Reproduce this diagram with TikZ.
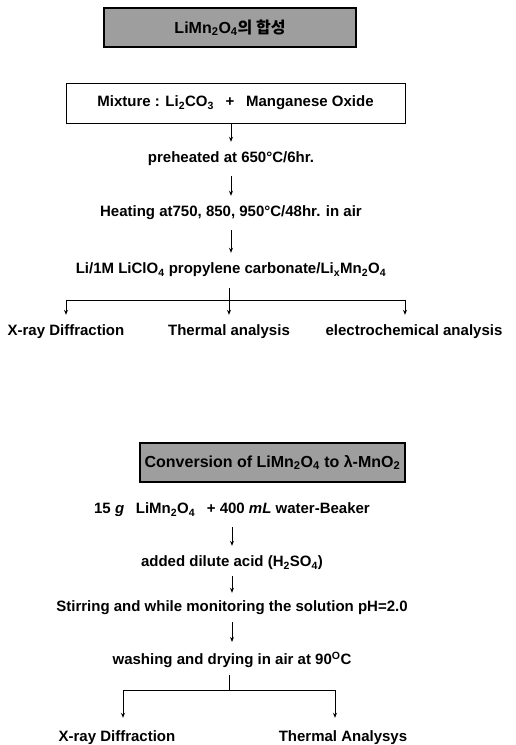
\documentclass[tikz,border=0pt]{standalone}
\usepackage{fontspec}
\setmainfont{Liberation Sans}
\newfontfamily\krfont{Noto Sans CJK KR}
\usepackage{tikz}
\usetikzlibrary{positioning,arrows.meta}

\begin{document}
\begin{tikzpicture}[
		x=1pt, y=-1pt,
		stage/.style={font=\bfseries\fontsize{15}{17}\selectfont, inner sep=3pt},
		title/.style={
			draw,
			fill=black!38,
			line width=1.2pt,
			font=\bfseries\fontsize{16}{18}\selectfont,
			minimum height=39pt,
			inner sep=3pt
		},
		mixbox/.style={
			draw,
			line width=0.7pt,
			minimum width=339pt,
			minimum height=40pt,
			font=\bfseries\fontsize{15}{17}\selectfont
		},
		arrow/.style={-{Stealth[length=5pt,width=4pt]},line width=0.8pt,
			shorten <=7pt, shorten >=7pt},
		branch/.style={line width=0.8pt}
		]
		\useasboundingbox (0,0) rectangle (516,745);
		
		% synthesis
		\node[title,minimum width=252pt] (head1) at (230,27.5)
		{LiMn\textsubscript{2}O\textsubscript{4}{\krfont 의 합성}};
		
		\node[mixbox] (mix) at (235.5,103)
		{Mixture : Li\textsubscript{2}CO\textsubscript{3} \enspace + \enspace Manganese Oxide};
		
		\node[stage] (pre) at (231,159) {preheated at 650°C/6hr.};
		
		\node[stage] (heat) at (231,213) {Heating at750, 850, 950°C/48hr. in air};
		
		\node[stage] (cell) at (231,270)
		{Li/1M LiClO\textsubscript{4} propylene carbonate/Li\textsubscript{x}Mn\textsubscript{2}O\textsubscript{4}};
		
		\node[stage] (xrd1) at (66,332) {X-ray Diffraction};
		\node[stage] (ta1) at (229,332) {Thermal analysis};
		\node[stage] (ec1) at (414,332) {electrochemical analysis};
		
		\coordinate (split1) at (229,300);
		
		\draw[arrow,shorten <=0pt] (mix.south -| pre) -- (pre);
		\draw[arrow] (pre) -- (heat);
		\draw[arrow] (heat) -- (cell);
		\draw[branch,shorten <=8pt] (cell.south -| split1) -- (split1);
		\draw[arrow,shorten <=0pt] (split1) -| (xrd1);
		\draw[arrow,shorten <=0pt] (split1) -- (ta1);
		\draw[arrow,shorten <=0pt] (split1) -| ([xshift=-9pt]ec1.north);
		
		% conversion
		\node[title,minimum width=265pt] (head2) at (272.5,462.5)
		{Conversion of LiMn\textsubscript{2}O\textsubscript{4} to λ-MnO\textsubscript{2}};
		
		\node[stage] (mixw) at (232,510)
		{15 \textit{g} \enspace LiMn\textsubscript{2}O\textsubscript{4} \enspace + 400 \textit{mL} water-Beaker};
		
		\node[stage] (acid) at (232,563) {added dilute acid (H\textsubscript{2}SO\textsubscript{4})};
		
		\node[stage] (stir) at (232,608) {Stirring and while monitoring the solution pH=2.0};
		
		\node[stage] (wash) at (232,660) {washing and drying in air at 90\textsuperscript{O}C};
		
		\node[stage] (xrd2) at (117,738) {X-ray Diffraction};
		\node[stage] (ta2) at (343,738) {Thermal Analysys};
		
		\coordinate (split2) at (229,690);
		
		\draw[arrow] (mixw) -- (acid);
		\draw[arrow,shorten <=3pt,shorten >=5pt] (acid) -- (stir);
		\draw[arrow,shorten <=4pt] (stir) -- (wash);
		\draw[branch,shorten <=4pt] (wash.south -| split2) -- (split2);
		\draw[arrow,shorten <=0pt,shorten >=10pt] (split2) -| ([xshift=6pt]xrd2.north);
		\draw[arrow,shorten <=0pt,shorten >=10pt] (split2) -| ([xshift=-8pt]ta2.north);
		
	\end{tikzpicture}
\end{document}
